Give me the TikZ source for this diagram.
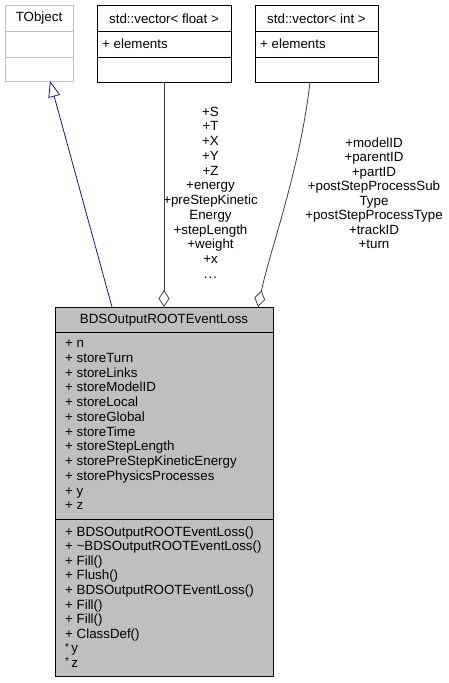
\documentclass[tikz,border=0pt]{standalone}
\usepackage{fontspec}
\setmainfont{Liberation Sans}
\usetikzlibrary{arrows.meta,calc}
\definecolor{boxgray}{HTML}{BFBFBF}
\definecolor{edgegray}{HTML}{404040}
\definecolor{inhblue}{HTML}{191970}
\definecolor{lightborder}{HTML}{BFBFBF}
\begin{document}
\begin{tikzpicture}[x=1pt,y=-1pt,font=\fontsize{13.33}{14.7}\selectfont,
  box/.style={draw,line width=0.9pt,anchor=north west,inner sep=0pt,outer sep=0pt},
  lbl/.style={anchor=base,inner sep=0pt},
  memb/.style={anchor=base west,inner sep=0pt},
  conn/.style={line width=0.8pt}]
\useasboundingbox (0,0) rectangle (449,683);
% boxes
\node[box,draw=lightborder,minimum width=68pt,minimum height=76pt] (tobj) at (5,5) {};
\draw[lightborder,line width=0.9pt] ($(tobj.north west)+(0,26)$) -- ($(tobj.north east)+(0,26)$);
\draw[lightborder,line width=0.9pt] ($(tobj.north west)+(0,52)$) -- ($(tobj.north east)+(0,52)$);
\node[lbl] (tobjt) at (39,21.5) {TObject};

\node[box,minimum width=134pt,minimum height=77pt] (vecf) at (97,5) {};
\draw[line width=0.9pt] ($(vecf.north west)+(0,26)$) -- ($(vecf.north east)+(0,26)$);
\draw[line width=0.9pt] ($(vecf.north west)+(0,52)$) -- ($(vecf.north east)+(0,52)$);
\node[lbl] (vecft) at (164,23) {std::vector< float >};
\node[memb] (vecfe) at (102,48) {+ elements};

\node[box,minimum width=123pt,minimum height=77pt] (veci) at (255,5) {};
\draw[line width=0.9pt] ($(veci.north west)+(0,26)$) -- ($(veci.north east)+(0,26)$);
\draw[line width=0.9pt] ($(veci.north west)+(0,52)$) -- ($(veci.north east)+(0,52)$);
\node[lbl] (vecit) at (316.5,23) {std::vector< int >};
\node[memb] (vecie) at (260,48) {+ elements};

\node[box,fill=boxgray,minimum width=218pt,minimum height=369pt] (main) at (55,307) {};
\draw[line width=0.9pt] ($(main.north west)+(0,25)$) -- ($(main.north east)+(0,25)$);
\draw[line width=0.9pt] ($(main.north west)+(0,212)$) -- ($(main.north east)+(0,212)$);
\node[lbl] (maint) at (164,323) {BDSOutputROOTEventLoss};
\foreach \t [count=\i] in {+ n,+ storeTurn,+ storeLinks,+ storeModelID,+ storeLocal,+ storeGlobal,+ storeTime,+ storeStepLength,+ storePreStepKineticEnergy,+ storePhysicsProcesses,+ y,+ z}
  \node[memb] (attr\i) at (65,347.5+14.75*\i-14.75) {\t};
\foreach \t [count=\i] in {+ BDSOutputROOTEventLoss(),+ \textasciitilde BDSOutputROOTEventLoss(),+ Fill(),+ Flush(),+ BDSOutputROOTEventLoss(),+ Fill(),+ Fill(),+ ClassDef(),{\raisebox{2.5pt}{\fontsize{10}{10}\selectfont *}\,y},{\raisebox{2.5pt}{\fontsize{10}{10}\selectfont *}\,z}}
  \node[memb] (meth\i) at (65,536+14.6*\i-14.6) {\t};

% connectors
\draw[conn,inhblue,-{Triangle[open,length=16pt,width=12pt]}] ($(main.north west)+(57,0)$) -- ($(tobj.south)+(11,0)$);
\draw[conn,edgegray,-{Diamond[open,length=17pt,width=11pt]}] ($(vecf.south west)+(67,0)$) -- ($(main.north west)+(109,0)$);
\draw[conn,edgegray,-{Diamond[open,length=17pt,width=11pt]}] ($(veci.south west)+(55,0)$) .. controls (300,170) and (270,250) .. ($(main.north west)+(203,0)$);

% edge labels
\foreach \t [count=\i] in {+S,+T,+X,+Y,+Z,+energy,+preStepKinetic,Energy,+stepLength,+weight,+x}
  \node[lbl] (fl\i) at (210.5,116+14.77*\i-14.77) {\t};
\node[lbl] (fl12) at (210.5,278.5) {.\kern1pt.\kern1pt.};
\foreach \t [count=\i] in {+modelID,+parentID,+partID,+postStepProcessSub,Type,+postStepProcessType,+trackID,+turn}
  \node[lbl] (il\i) at (374,147+14.5*\i-14.5) {\t};
\end{tikzpicture}
\end{document}
